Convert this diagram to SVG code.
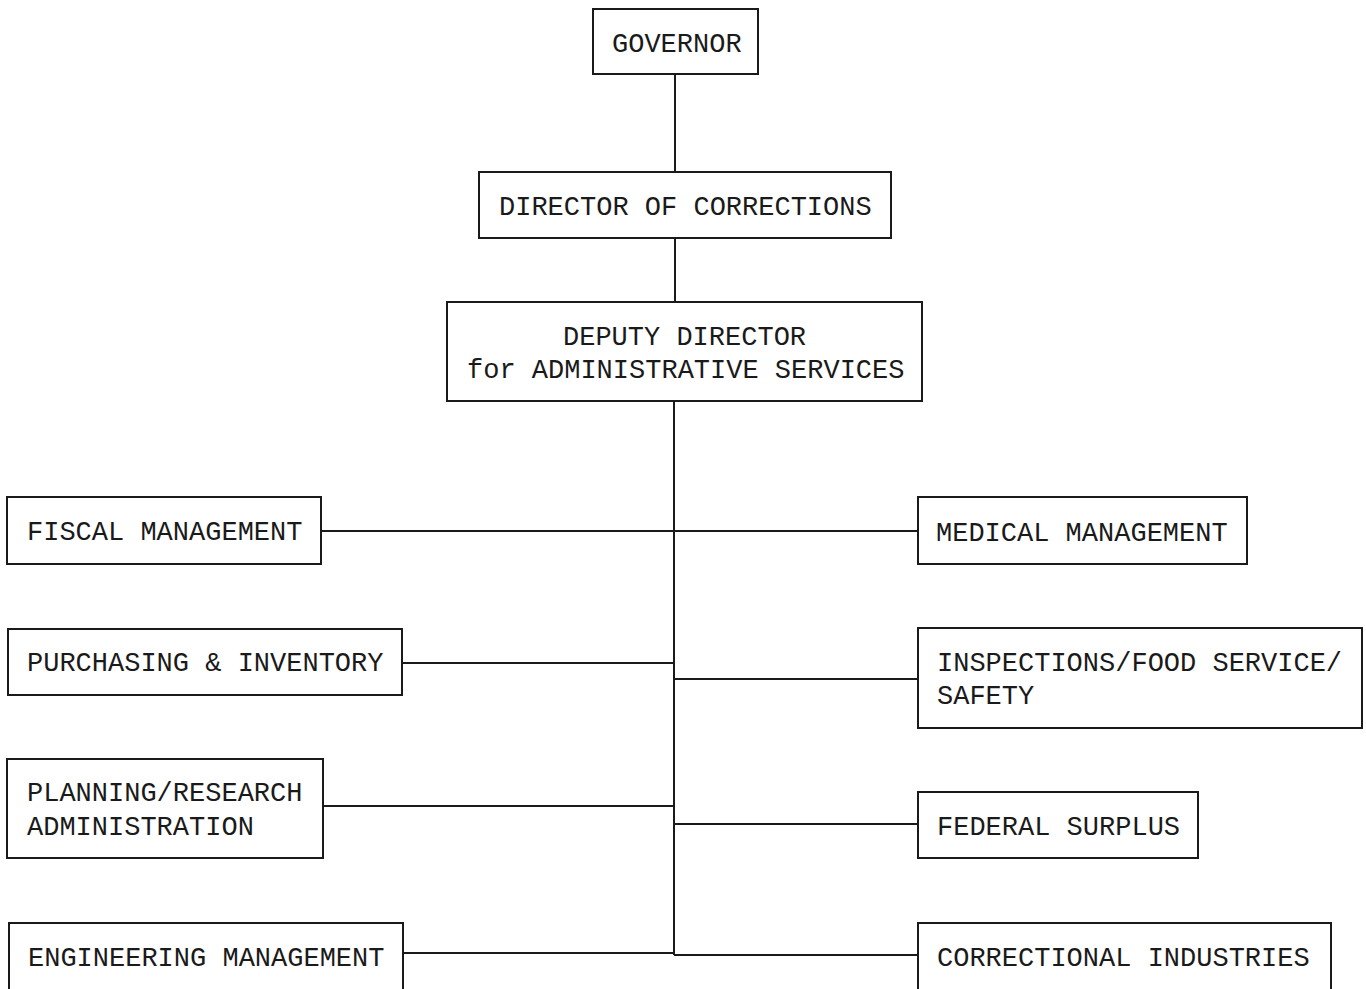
<svg xmlns="http://www.w3.org/2000/svg" width="1366" height="989" viewBox="0 0 1366 989">
<style>
.box{fill:none;stroke:#1a1a1a;stroke-width:2}
.ln{stroke:#1a1a1a;stroke-width:2;fill:none}
text{font-family:"Liberation Mono","DejaVu Sans Mono",monospace;font-size:27px;fill:#1a1a1a}
</style>
<rect width="1366" height="989" fill="#ffffff"/>
<g id="connectors">
<line class="ln" x1="675" y1="74" x2="675" y2="172"/>
<line class="ln" x1="675" y1="238" x2="675" y2="302"/>
<line class="ln" x1="674" y1="401" x2="674" y2="955"/>
<line class="ln" x1="321" y1="531" x2="918" y2="531"/>
<line class="ln" x1="402" y1="663" x2="674" y2="663"/>
<line class="ln" x1="674" y1="679" x2="918" y2="679"/>
<line class="ln" x1="323" y1="806" x2="674" y2="806"/>
<line class="ln" x1="674" y1="824" x2="918" y2="824"/>
<line class="ln" x1="403" y1="953" x2="674" y2="953"/>
<line class="ln" x1="674" y1="955" x2="918" y2="955"/>
</g>
<g id="governor">
<rect class="box" x="593" y="9" width="165" height="65"/>
<text x="612" y="52">GOVERNOR</text>
</g>
<g id="director">
<rect class="box" x="479" y="172" width="412" height="66"/>
<text x="499" y="215">DIRECTOR OF CORRECTIONS</text>
</g>
<g id="deputy">
<rect class="box" x="447" y="302" width="475" height="99"/>
<text x="563" y="345">DEPUTY DIRECTOR</text>
<text x="467" y="378">for ADMINISTRATIVE SERVICES</text>
</g>
<g id="fiscal">
<rect class="box" x="7" y="497" width="314" height="67"/>
<text x="27" y="540">FISCAL MANAGEMENT</text>
</g>
<g id="medical">
<rect class="box" x="918" y="497" width="329" height="67"/>
<text x="936" y="541">MEDICAL MANAGEMENT</text>
</g>
<g id="purchasing">
<rect class="box" x="8" y="629" width="394" height="66"/>
<text x="27" y="671">PURCHASING &amp; INVENTORY</text>
</g>
<g id="inspections">
<rect class="box" x="918" y="628" width="444" height="100"/>
<text x="937" y="671">INSPECTIONS/FOOD SERVICE/</text>
<text x="937" y="704">SAFETY</text>
</g>
<g id="planning">
<rect class="box" x="7" y="759" width="316" height="99"/>
<text x="27" y="801">PLANNING/RESEARCH</text>
<text x="27" y="835">ADMINISTRATION</text>
</g>
<g id="federal">
<rect class="box" x="918" y="792" width="280" height="66"/>
<text x="937" y="835">FEDERAL SURPLUS</text>
</g>
<g id="engineering">
<rect class="box" x="9" y="923" width="394" height="70"/>
<text x="28" y="966">ENGINEERING MANAGEMENT</text>
</g>
<g id="correctional">
<rect class="box" x="918" y="923" width="413" height="70"/>
<text x="937" y="966">CORRECTIONAL INDUSTRIES</text>
</g>
</svg>
